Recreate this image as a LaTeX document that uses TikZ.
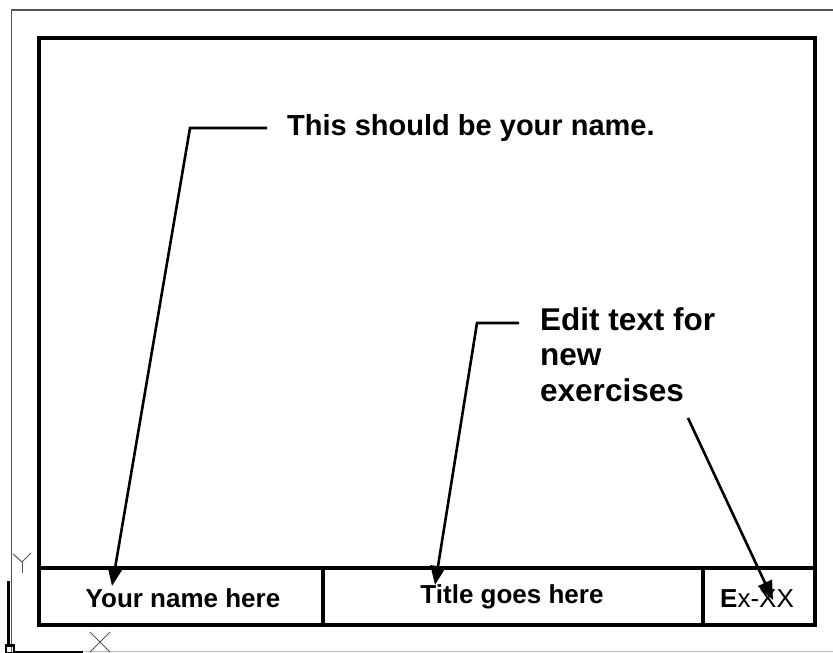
\documentclass[tikz,border=0pt]{standalone}
\usepackage{fontspec}
\setmainfont{Liberation Sans}
\usetikzlibrary{arrows.meta}
\definecolor{framegrey}{HTML}{555555}
\tikzset{
  thickframe/.style={line width=4.5pt, draw=black},
  thinframe/.style={line width=1.5pt, draw=framegrey},
  leader/.style={line width=2.6pt, draw=black, -{Triangle[length=19pt,width=15pt]}},
  celltext/.style={font=\fontsize{26}{30}\selectfont\bfseries, anchor=base, inner sep=0pt},
  notetext/.style={font=\fontsize{29}{34}\selectfont\bfseries, anchor=base west, inner sep=0pt},
  edittext/.style={font=\fontsize{31.5}{35}\selectfont\bfseries, anchor=base west, inner sep=0pt},
  ucs/.style={line width=1pt, draw=framegrey},
}
\begin{document}
\begin{tikzpicture}[x=1pt,y=-1pt]
\useasboundingbox (0,0) rectangle (833,653);
% outer thin frame (cropped)
\draw[thinframe] (833,10) -- (11.5,10) -- (11.5,653);
\draw[draw=black!25, line width=1pt] (84,651.5) -- (833,651.5);
% inner thick frame
\draw[thickframe] (39,38) rectangle (815,625);
% title block
\draw[thickframe, line width=4pt] (39,568) -- (815,568);
\draw[thickframe, line width=4pt] (323,568) -- (323,625);
\draw[thickframe, line width=4pt] (703,568) -- (703,625);
% cell texts
\node[celltext] (name) at (183,607) {Your name here};
\node[celltext] (title) at (512,603) {Title goes here};
\node[celltext] (ex) at (757,607) {E\mdseries x-XX};
% notes
\node[notetext] (note1) at (287,135) {This should be your name.};
\node[edittext] (edit1) at (540,330) {Edit text for};
\node[edittext] (edit2) at (540,365) {new};
\node[edittext] (edit3) at (540,401) {exercises};
% leader coordinates
\coordinate (l1s) at (267,128);
\coordinate (l1b) at (190,128);
\coordinate (l1t) at (112,586);
\coordinate (l2s) at (519,323);
\coordinate (l2b) at (477,323);
\coordinate (l2t) at (435,585);
\coordinate (l3s) at (688,418);
\coordinate (l3t) at (773,600);
\draw[leader] (l1s) -- (l1b) -- (l1t);
\draw[leader] (l2s) -- (l2b) -- (l2t);
\draw[leader] (l3s) -- (l3t);
% UCS icon
\draw[line width=3pt] (8.5,581) -- (8.5,646);
\draw[line width=2.5pt] (6,645.5) rectangle (14,653);
\draw[line width=2pt] (14,652) -- (83,652);
\draw[ucs] (13,554) -- (22,562) -- (31,553);
\draw[ucs] (22,562) -- (22,573);
\draw[ucs] (90,632) -- (110,652);
\draw[ucs] (110,632) -- (90,652);
\end{tikzpicture}
\end{document}
